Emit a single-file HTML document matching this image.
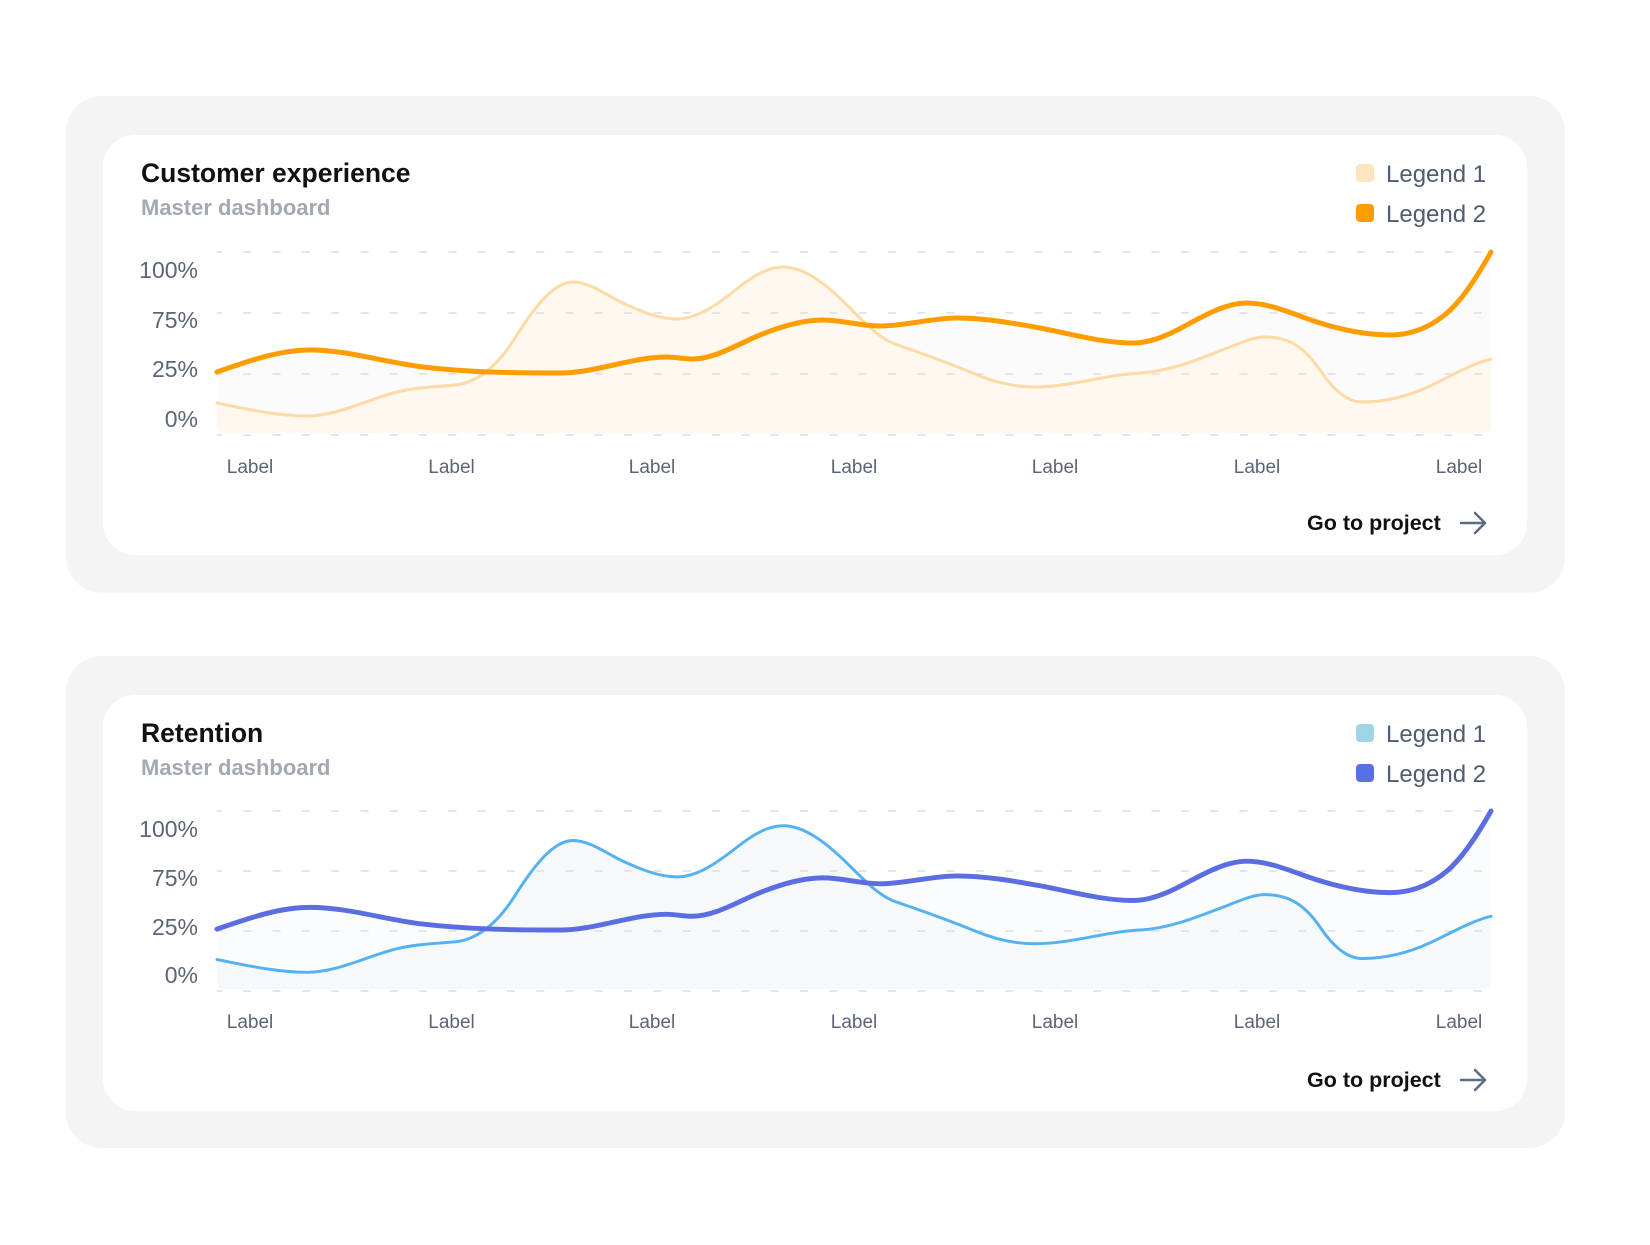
<!DOCTYPE html>
<html><head><meta charset="utf-8"><style>
html,body{margin:0;padding:0;background:#fff;}
svg{display:block;}
text{font-family:"Liberation Sans",Arial,sans-serif;}
</style></head><body>
<svg width="1650" height="1245" viewBox="0 0 1650 1245" xmlns="http://www.w3.org/2000/svg">
<defs>
<clipPath id="fc"><rect x="217" y="150" width="1274" height="283" rx="8"/></clipPath>
<path id="pThick" d="M217,372 C248,361.2 279,350 310,350 C347.7,350 385.3,362.5 423,367 C468.7,372.5 514.3,373 560,373 C595.7,373 631.3,357 667,357 C675.3,357 683.7,359 692,359 C714.7,359 737.3,344.3 760,335 C781,326.4 802,320 823,320 C842,320 861,326 880,326 C905.7,326 931.3,318 957,318 C984.7,318 1012.3,322.9 1040,328 C1071,333.8 1102,343 1133,343 C1149.7,343 1166.3,336 1183,327 C1204.3,315.5 1225.7,303 1247,303 C1270.3,303 1293.7,314.5 1317,322 C1341.3,329.8 1365.7,335 1390,335 C1409,335 1428,329.3 1447,313 C1461.7,300.4 1476.3,278.4 1491,252"/>
<path id="pLight" d="M217,403 C247,409 277,416 307,416 C337,416 367,399.5 397,392 C416.3,387.2 435.7,386.9 455,385 C475,383 495,370 515,338 C534.3,307.1 553.7,282 573,282 C590.3,282 607.7,296.2 625,304 C642.3,311.8 659.7,319 677,319 C697.3,319 717.7,304.3 738,288 C753,276 768,267 783,267 C804.7,267 826.3,284.3 848,306 C863.7,321.7 879.3,338.5 895,344 C921.7,353.3 948.3,362.8 975,374 C995,382.4 1015,387 1035,387 C1070,387 1105,374.8 1140,373 C1170,371.5 1200,358.7 1230,347 C1241.7,342.5 1253.3,337 1265,337 C1283.3,337 1301.7,342.5 1320,370 C1334,391 1348,402 1362,402 C1384.7,402 1407.3,396.7 1430,386 C1450.3,376.4 1470.7,364.1 1491,359"/>
<path id="fThick" d="M217,372 C248,361.2 279,350 310,350 C347.7,350 385.3,362.5 423,367 C468.7,372.5 514.3,373 560,373 C595.7,373 631.3,357 667,357 C675.3,357 683.7,359 692,359 C714.7,359 737.3,344.3 760,335 C781,326.4 802,320 823,320 C842,320 861,326 880,326 C905.7,326 931.3,318 957,318 C984.7,318 1012.3,322.9 1040,328 C1071,333.8 1102,343 1133,343 C1149.7,343 1166.3,336 1183,327 C1204.3,315.5 1225.7,303 1247,303 C1270.3,303 1293.7,314.5 1317,322 C1341.3,329.8 1365.7,335 1390,335 C1409,335 1428,329.3 1447,313 C1461.7,300.4 1476.3,278.4 1491,252 L1491,433 L217,433 Z"/>
<path id="fLight" d="M217,403 C247,409 277,416 307,416 C337,416 367,399.5 397,392 C416.3,387.2 435.7,386.9 455,385 C475,383 495,370 515,338 C534.3,307.1 553.7,282 573,282 C590.3,282 607.7,296.2 625,304 C642.3,311.8 659.7,319 677,319 C697.3,319 717.7,304.3 738,288 C753,276 768,267 783,267 C804.7,267 826.3,284.3 848,306 C863.7,321.7 879.3,338.5 895,344 C921.7,353.3 948.3,362.8 975,374 C995,382.4 1015,387 1035,387 C1070,387 1105,374.8 1140,373 C1170,371.5 1200,358.7 1230,347 C1241.7,342.5 1253.3,337 1265,337 C1283.3,337 1301.7,342.5 1320,370 C1334,391 1348,402 1362,402 C1384.7,402 1407.3,396.7 1430,386 C1450.3,376.4 1470.7,364.1 1491,359 L1491,433 L217,433 Z"/>
</defs>

<!-- ===== Card 1 ===== -->
<rect x="66" y="96" width="1499" height="497" rx="36" fill="#f4f4f4"/>
<rect x="103" y="135" width="1424" height="420" rx="32" fill="#ffffff"/>
<text x="141" y="182" font-size="26.5" font-weight="bold" fill="#111111">Customer experience</text>
<text x="141" y="215" font-size="22" font-weight="bold" fill="#a3a9b3">Master dashboard</text>

<rect x="1356" y="164" width="18" height="18" rx="4" fill="#fde5c0"/>
<text x="1386" y="182" font-size="24" fill="#4f5b70">Legend 1</text>
<rect x="1356" y="204" width="18" height="18" rx="4" fill="#ff9d00"/>
<text x="1386" y="222" font-size="24" fill="#4f5b70">Legend 2</text>

<g font-size="23" fill="#5b6478" text-anchor="end">
<text x="198" y="278">100%</text>
<text x="198" y="328">75%</text>
<text x="198" y="377">25%</text>
<text x="198" y="427">0%</text>
</g>

<g clip-path="url(#fc)">
<use href="#fThick" fill="#fbfbfb"/>
<use href="#fLight" fill="#fef8ee"/>
</g>
<g stroke="#e3e5e9" stroke-width="2" stroke-dasharray="8 21.3" stroke-dashoffset="3">
<line x1="217" y1="252" x2="1491" y2="252"/>
<line x1="217" y1="313" x2="1491" y2="313"/>
<line x1="217" y1="374" x2="1491" y2="374"/>
<line x1="217" y1="435" x2="1491" y2="435"/>
</g>
<use href="#pLight" fill="none" stroke="#fedaa6" stroke-width="3" stroke-linecap="round"/>
<use href="#pThick" fill="none" stroke="#ff9d00" stroke-width="5" stroke-linecap="round"/>

<g font-size="19" fill="#5b6478" text-anchor="middle">
<text x="250" y="473">Label</text>
<text x="451.5" y="473">Label</text>
<text x="652" y="473">Label</text>
<text x="854" y="473">Label</text>
<text x="1055" y="473">Label</text>
<text x="1257" y="473">Label</text>
<text x="1459" y="473">Label</text>
</g>

<text x="1307" y="530" font-size="21.5" font-weight="bold" fill="#111111">Go to project</text>
<g stroke="#5b6b82" stroke-width="2.5" fill="none" stroke-linecap="round" stroke-linejoin="round">
<line x1="1461" y1="523" x2="1485" y2="523"/>
<polyline points="1475,513 1485,523 1475,533"/>
</g>

<!-- ===== Card 2 ===== -->
<rect x="66" y="656" width="1499" height="492" rx="36" fill="#f4f4f4"/>
<rect x="103" y="695" width="1424" height="416" rx="32" fill="#ffffff"/>
<text x="141" y="742" font-size="26.5" font-weight="bold" fill="#111111">Retention</text>
<text x="141" y="775" font-size="22" font-weight="bold" fill="#a3a9b3">Master dashboard</text>

<rect x="1356" y="724" width="18" height="18" rx="4" fill="#a0d4e8"/>
<text x="1386" y="742" font-size="24" fill="#4f5b70">Legend 1</text>
<rect x="1356" y="764" width="18" height="18" rx="4" fill="#5a6fe0"/>
<text x="1386" y="782" font-size="24" fill="#4f5b70">Legend 2</text>

<g font-size="23" fill="#5b6478" text-anchor="end">
<text x="198" y="837">100%</text>
<text x="198" y="886">75%</text>
<text x="198" y="935">25%</text>
<text x="198" y="983">0%</text>
</g>

<g transform="translate(0,811) scale(1,0.9836) translate(0,-252)">
<g clip-path="url(#fc)">
<use href="#fThick" fill="#fbfcfd"/>
<use href="#fLight" fill="#f5f9fc"/>
</g>
</g>
<g stroke="#e3e5e9" stroke-width="2" stroke-dasharray="8 21.3" stroke-dashoffset="3">
<line x1="217" y1="811" x2="1491" y2="811"/>
<line x1="217" y1="871" x2="1491" y2="871"/>
<line x1="217" y1="931" x2="1491" y2="931"/>
<line x1="217" y1="991" x2="1491" y2="991"/>
</g>
<g transform="translate(0,811) scale(1,0.9836) translate(0,-252)">
<use href="#pLight" fill="none" stroke="#55b1f0" stroke-width="3" stroke-linecap="round" vector-effect="non-scaling-stroke"/>
<use href="#pThick" fill="none" stroke="#5b6ee1" stroke-width="5" stroke-linecap="round" vector-effect="non-scaling-stroke"/>
</g>

<g font-size="19" fill="#5b6478" text-anchor="middle">
<text x="250" y="1028">Label</text>
<text x="451.5" y="1028">Label</text>
<text x="652" y="1028">Label</text>
<text x="854" y="1028">Label</text>
<text x="1055" y="1028">Label</text>
<text x="1257" y="1028">Label</text>
<text x="1459" y="1028">Label</text>
</g>

<text x="1307" y="1087" font-size="21.5" font-weight="bold" fill="#111111">Go to project</text>
<g stroke="#5b6b82" stroke-width="2.5" fill="none" stroke-linecap="round" stroke-linejoin="round">
<line x1="1461" y1="1080" x2="1485" y2="1080"/>
<polyline points="1475,1070 1485,1080 1475,1090"/>
</g>
</svg>
</body></html>
